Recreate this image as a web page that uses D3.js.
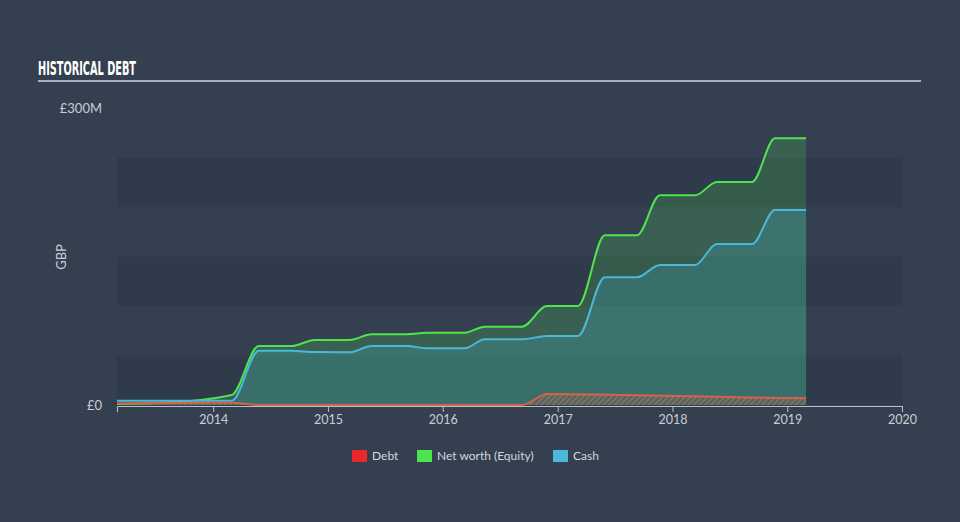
<!DOCTYPE html>
<html>
<head>
<meta charset="utf-8">
<script src="https://cdn.jsdelivr.net/npm/d3@7"></script>
<style>
  html, body { margin: 0; padding: 0; background: #344050; }
  svg { display: block; }
</style>
</head>
<body>
<svg id="chart" width="960" height="522"></svg>
<script>
// ---- Data (values in £ millions) ----
const dates = ["2013-03-01","2013-09-01","2014-03-01","2014-05-26","2014-09-08","2014-11-20",
  "2015-03-11","2015-05-20","2015-09-09","2015-11-11","2016-03-11","2016-05-14","2016-09-09",
  "2016-11-28","2017-03-06","2017-05-31","2017-09-10","2017-11-22","2018-03-14","2018-05-22",
  "2018-09-11","2018-11-23","2019-03-02"];
const netWorth = [1.0, 3.0, 10.1, 59.6, 59.6, 65.7, 65.7, 71.4, 71.4, 73.0, 73.0, 79.1, 79.1,
  100.0, 100.0, 171.4, 171.4, 211.8, 211.8, 225.3, 225.3, 269.4, 269.4];
const cash = [4.3, 4.3, 4.3, 54.8, 54.8, 53.5, 53.3, 59.6, 59.6, 57.3, 57.3, 66.4, 66.4,
  69.7, 69.7, 129.0, 129.0, 141.4, 141.4, 162.6, 162.6, 197.0, 197.0];
const debtDates = ["2013-03-01","2014-03-01","2014-05-26","2016-09-09","2016-11-28",
  "2017-06-15","2018-03-01","2018-09-01","2019-03-02"];
const debt = [1.5, 2.3, 0, 0, 11.1, 10.4, 8.8, 7.6, 6.8];
const yTickValues = [0, 300];
const yTickLabels = ["£0", "£300M"];
const bandEdges = [0, 50, 100, 150, 200, 250];
const legendNames = ["Debt", "Net worth (Equity)", "Cash"];
const legendColors = ["#e8282a", "#4ee44e", "#4ab8d9"];

const parse = d3.utcParse("%Y-%m-%d");
const svg = d3.select("#chart");
const font = "Lato, 'Open Sans', sans-serif";

const x = d3.scaleUtc().domain([parse("2013-03-01"), parse("2020-01-01")]).range([117, 902]);
const y = d3.scaleLinear().domain([0, 300]).range([405, 108]);

// Title
svg.append("text").attr("x", 38).attr("y", 75)
  .attr("font-family", "'Liberation Sans Narrow', 'DejaVu Sans Condensed', sans-serif")
  .attr("font-weight", "bold").attr("font-size", 19).attr("fill", "#ffffff")
  .attr("textLength", 98).attr("lengthAdjust", "spacingAndGlyphs")
  .text("HISTORICAL DEBT");
svg.append("line").attr("x1", 38).attr("x2", 921).attr("y1", 81).attr("y2", 81)
  .attr("stroke", "#a9b2bc").attr("stroke-width", 2);

// Bands (dark alternating bands)
svg.append("g").selectAll("rect").data(bandEdges.filter((d, i) => i % 2 === 0)).join("rect")
  .attr("x", x.range()[0]).attr("width", x.range()[1] - x.range()[0])
  .attr("y", d => y(d + 50)).attr("height", d => y(d) - y(d + 50))
  .attr("fill", "rgba(20,28,40,0.15)");

const nw = dates.map((d, i) => ({ date: parse(d), v: netWorth[i] }));
const cs = dates.map((d, i) => ({ date: parse(d), v: cash[i] }));
const db = debtDates.map((d, i) => ({ date: parse(d), v: debt[i] }));

const curve = d3.curveMonotoneX;
const area = d3.area().x(d => x(d.date)).y0(y(0)).y1(d => y(d.v)).curve(curve);
const line = d3.line().x(d => x(d.date)).y(d => y(d.v)).curve(curve);

// Hatch pattern for debt
const defs = svg.append("defs");
const pat = defs.append("pattern").attr("id", "hatch").attr("patternUnits", "userSpaceOnUse")
  .attr("width", 4).attr("height", 4).attr("patternTransform", "rotate(45)");
pat.append("rect").attr("width", 2).attr("height", 4).attr("fill", "rgba(225,95,70,0.55)");

svg.append("path").datum(nw).attr("d", area).attr("fill", "rgba(78,226,78,0.2)");
svg.append("path").datum(cs).attr("d", area).attr("fill", "rgba(74,184,217,0.22)");
svg.append("path").datum(db).attr("d", area).attr("fill", "url(#hatch)");

svg.append("path").datum(nw).attr("d", line).attr("fill", "none")
  .attr("stroke", "#4ee44e").attr("stroke-width", 2);
svg.append("path").datum(cs).attr("d", line).attr("fill", "none")
  .attr("stroke", "#4ab8d9").attr("stroke-width", 2);
svg.append("path").datum(db).attr("d", line).attr("fill", "none")
  .attr("stroke", "#d9604a").attr("stroke-width", 2);

// X axis
const xAxis = d3.axisBottom(x).ticks(d3.utcYear.every(1)).tickFormat(d3.utcFormat("%Y"))
  .tickSizeOuter(0).tickSize(6).tickPadding(3);
const gx = svg.append("g").attr("transform", "translate(0,406)").call(xAxis);
gx.select(".domain").attr("stroke", "#b9c1ca");
gx.selectAll(".tick line").attr("stroke", "#b9c1ca");
gx.selectAll(".tick text").attr("fill", "#c9ced5").attr("font-family", font).attr("font-size", 12.5);

// Y labels
svg.append("g").selectAll("text").data(yTickValues).join("text")
  .attr("x", 102).attr("y", d => y(d)).attr("dy", "0.35em").attr("text-anchor", "end")
  .attr("fill", "#c9ced5").attr("font-family", font).attr("font-size", 13)
  .text((d, i) => yTickLabels[i]);
svg.append("text").attr("transform", "translate(66,257) rotate(-90)")
  .attr("text-anchor", "middle").attr("fill", "#c9ced5").attr("font-family", font)
  .attr("font-size", 13).text("GBP");

// Legend
const legX = [352, 417, 553];
const lg = svg.append("g").selectAll("g").data(legendNames).join("g")
  .attr("transform", (d, i) => `translate(${legX[i]},450)`);
lg.append("rect").attr("width", 15).attr("height", 12).attr("fill", (d, i) => legendColors[i]);
lg.append("text").attr("x", 20).attr("y", 6).attr("dy", "0.35em")
  .attr("fill", "#d3d7dd").attr("font-family", font).attr("font-size", 12).text(d => d);
</script>
</body>
</html>
